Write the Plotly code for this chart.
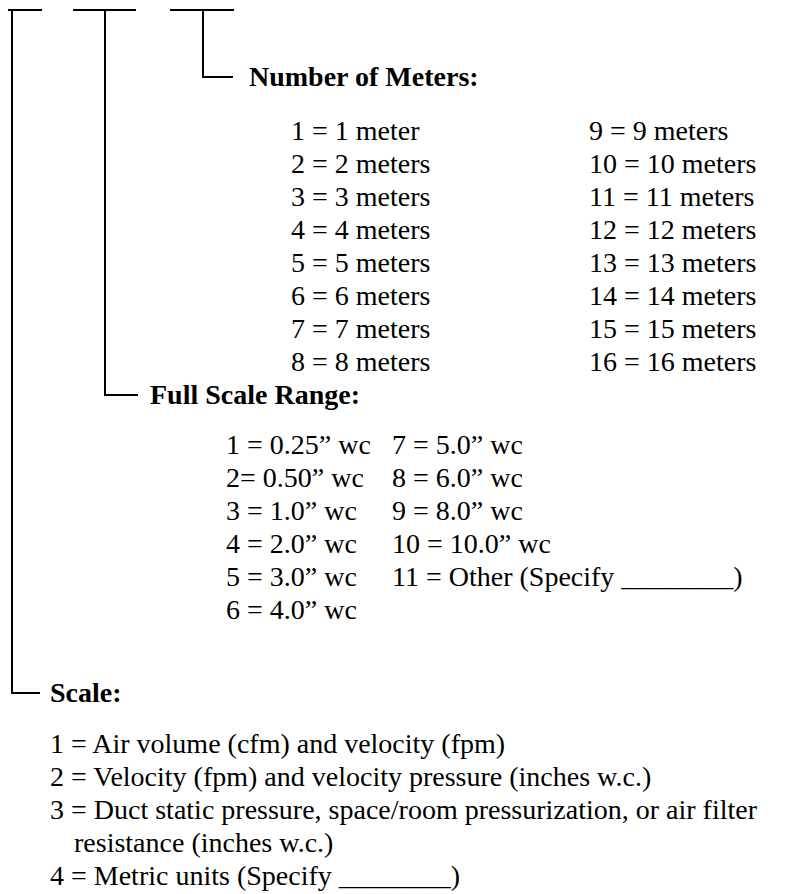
import plotly.graph_objects as go

# 텍스트 데이터
meters_left = ["1 = 1 meter", "2 = 2 meters", "3 = 3 meters", "4 = 4 meters",
               "5 = 5 meters", "6 = 6 meters", "7 = 7 meters", "8 = 8 meters"]
meters_right = ["9 = 9 meters", "10 = 10 meters", "11 = 11 meters", "12 = 12 meters",
                "13 = 13 meters", "14 = 14 meters", "15 = 15 meters", "16 = 16 meters"]
range_left = ["1 = 0.25\u201d wc", "2= 0.50\u201d wc", "3 = 1.0\u201d wc",
              "4 = 2.0\u201d wc", "5 = 3.0\u201d wc", "6 = 4.0\u201d wc"]
range_right = ["7 = 5.0\u201d wc", "8 = 6.0\u201d wc", "9 = 8.0\u201d wc",
               "10 = 10.0\u201d wc", "11 = Other (Specify ________)"]
scale_items = ["1 = Air volume (cfm) and velocity (fpm)",
               "2 = Velocity (fpm) and velocity pressure (inches w.c.)",
               "3 = Duct static pressure, space/room pressurization, or air filter",
               "resistance (inches w.c.)",
               "4 = Metric units (Specify ________)"]
scale_indent = [0, 0, 0, 24, 0]
headings = ["Number of Meters:", "Full Scale Range:", "Scale:"]

# 브래킷 선 (픽셀 좌표, y는 아래로 증가)
brackets = [
    dict(x=[0, 42], y=[10, 10]),
    dict(x=[73, 136], y=[10, 10]),
    dict(x=[170, 234], y=[10, 10]),
    dict(x=[203, 203, 233], y=[10, 77, 77]),
    dict(x=[105, 105, 138], y=[10, 395, 395]),
    dict(x=[12, 12, 40], y=[10, 693, 693]),
]

FONT = "Liberation Serif"
SIZE = 28
HEAD = 28
ROW = 33
PAD = 8  # 페이지 body 여백 보정

fig = go.Figure()

for b in brackets:
    fig.add_trace(go.Scatter(x=b["x"], y=b["y"], mode="lines",
                             line=dict(color="black", width=2),
                             hoverinfo="skip", showlegend=False))

annotations = []


def add_text(x, y, text, bold=False):
    annotations.append(dict(
        x=x - 2, y=y - 1, xref="x", yref="y", text=f"<b>{text}</b>" if bold else text,
        showarrow=False, xanchor="left", yanchor="middle",
        font=dict(family=FONT, size=HEAD if bold else SIZE, color="black")))


add_text(249, 77, headings[0], bold=True)
for i, t in enumerate(meters_left):
    add_text(291, 131 + i * ROW, t)
for i, t in enumerate(meters_right):
    add_text(589, 131 + i * ROW, t)

add_text(150, 395, headings[1], bold=True)
for i, t in enumerate(range_left):
    add_text(226, 445 + i * ROW, t)
for i, t in enumerate(range_right):
    add_text(392, 445 + i * ROW, t)

add_text(50, 693, headings[2], bold=True)
for i, t in enumerate(scale_items):
    add_text(50 + scale_indent[i], 744 + i * ROW, t)

fig.update_layout(
    width=800, height=894,
    margin=dict(l=0, r=0, t=0, b=0),
    paper_bgcolor="white", plot_bgcolor="white",
    annotations=annotations,
    xaxis=dict(range=[PAD, 800 + PAD], visible=False, fixedrange=True),
    yaxis=dict(range=[894 + PAD, PAD], visible=False, fixedrange=True),
)

fig.write_html("out.html")
